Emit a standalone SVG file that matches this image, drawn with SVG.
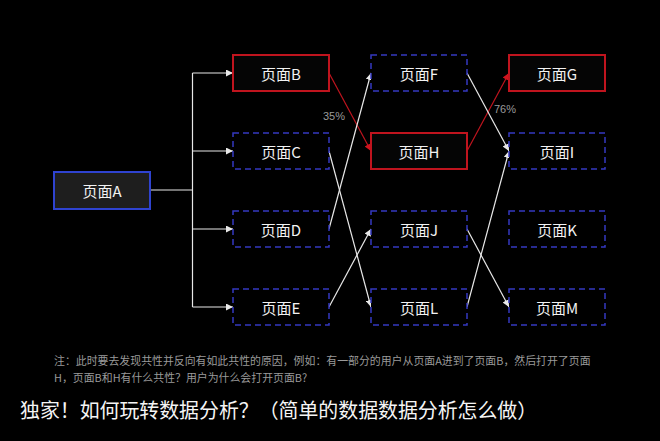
<svg xmlns="http://www.w3.org/2000/svg" width="660" height="441" viewBox="0 0 660 441">
<defs>
<marker id="aw" viewBox="0 0 10 10" refX="10" refY="5" markerWidth="7" markerHeight="7" markerUnits="userSpaceOnUse" orient="auto"><path d="M0,0 L10,5 L0,10 z" fill="#e8e8e8"/></marker>
<marker id="ar" viewBox="0 0 10 10" refX="10" refY="5" markerWidth="7" markerHeight="7" markerUnits="userSpaceOnUse" orient="auto"><path d="M0,0 L10,5 L0,10 z" fill="#d0141e"/></marker>
<style>
.bg{fill:#000}
.dash{fill:#000;stroke:#3438c0;stroke-width:1.5;stroke-dasharray:6 4}
.red{fill:#050505;stroke:#c0141e;stroke-width:2}
.blue{fill:#1e1e1e;stroke:#2f43d0;stroke-width:2}
.lbl{font-family:"Noto Sans CJK SC","Noto Sans",sans-serif;font-size:15px;fill:#f2f2f2;text-anchor:middle;dominant-baseline:central}
.w{fill:none;stroke:#e8e8e8;stroke-width:1.2}
.r{fill:none;stroke:#c0141e;stroke-width:1.2}
.pct{font-family:"Liberation Sans",Arial,sans-serif;font-size:11px;fill:#9a9a9a}
.note{font-family:"Noto Sans CJK SC",sans-serif;font-size:10.9px;fill:#9a9a9a}
.title{font-family:"Noto Sans CJK SC",sans-serif;font-size:19.9px;fill:#f5f5f5}
</style>
</defs>
<rect class="bg" x="0" y="0" width="660" height="441"/>
<g id="connectors">
<path class="w" d="M151,190 H192.5"/>
<path class="w" d="M192.5,73 V307"/>
<path class="w" d="M192.5,73 H233" marker-end="url(#aw)"/>
<path class="w" d="M192.5,151 H233" marker-end="url(#aw)"/>
<path class="w" d="M192.5,229 H233" marker-end="url(#aw)"/>
<path class="w" d="M192.5,307 H233" marker-end="url(#aw)"/>
<path class="r" d="M329,73 L371,151" marker-end="url(#ar)"/>
<path class="w" d="M329,151 L371,307" marker-end="url(#aw)"/>
<path class="w" d="M329,229 L371,73" marker-end="url(#aw)"/>
<path class="w" d="M329,307 L371,229" marker-end="url(#aw)"/>
<path class="r" d="M467,151 L509,73" marker-end="url(#ar)"/>
<path class="w" d="M467,73 L509,151" marker-end="url(#aw)"/>
<path class="w" d="M467,229 L509,307" marker-end="url(#aw)"/>
<path class="w" d="M467,307 L509,151" marker-end="url(#aw)"/>
<text class="pct" x="323" y="120">35%</text>
<text class="pct" x="494" y="113">76%</text>
</g>
<g id="nodeA"><rect class="blue" x="54" y="172" width="96" height="37"/><text class="lbl" x="102" y="190.5">页面A</text></g>
<g id="nodeB"><rect class="red" x="233" y="55" width="96" height="36"/><text class="lbl" x="281" y="73">页面B</text></g>
<g id="nodeC"><rect class="dash" x="233" y="133" width="96" height="36"/><text class="lbl" x="281" y="151">页面C</text></g>
<g id="nodeD"><rect class="dash" x="233" y="211" width="96" height="36"/><text class="lbl" x="281" y="229">页面D</text></g>
<g id="nodeE"><rect class="dash" x="233" y="289" width="96" height="36"/><text class="lbl" x="281" y="307">页面E</text></g>
<g id="nodeF"><rect class="dash" x="371" y="55" width="96" height="36"/><text class="lbl" x="419" y="73">页面F</text></g>
<g id="nodeH"><rect class="red" x="371" y="133" width="96" height="36"/><text class="lbl" x="419" y="151">页面H</text></g>
<g id="nodeJ"><rect class="dash" x="371" y="211" width="96" height="36"/><text class="lbl" x="419" y="229">页面J</text></g>
<g id="nodeL"><rect class="dash" x="371" y="289" width="96" height="36"/><text class="lbl" x="419" y="307">页面L</text></g>
<g id="nodeG"><rect class="red" x="509" y="55" width="96" height="36"/><text class="lbl" x="557" y="73">页面G</text></g>
<g id="nodeI"><rect class="dash" x="509" y="133" width="96" height="36"/><text class="lbl" x="557" y="151">页面I</text></g>
<g id="nodeK"><rect class="dash" x="509" y="211" width="96" height="36"/><text class="lbl" x="557" y="229">页面K</text></g>
<g id="nodeM"><rect class="dash" x="509" y="289" width="96" height="36"/><text class="lbl" x="557" y="307">页面M</text></g>
<g id="notes">
<text class="note" x="54" y="365">注：此时要去发现共性并反向有如此共性的原因，例如：有一部分的用户从页面A进到了页面B，然后打开了页面</text>
<text class="note" x="54" y="382">H，页面B和H有什么共性？用户为什么会打开页面B?</text>
<text class="title" x="20" y="418">独家！如何玩转数据分析？（简单的数据数据分析怎么做）</text>
</g>
</svg>
